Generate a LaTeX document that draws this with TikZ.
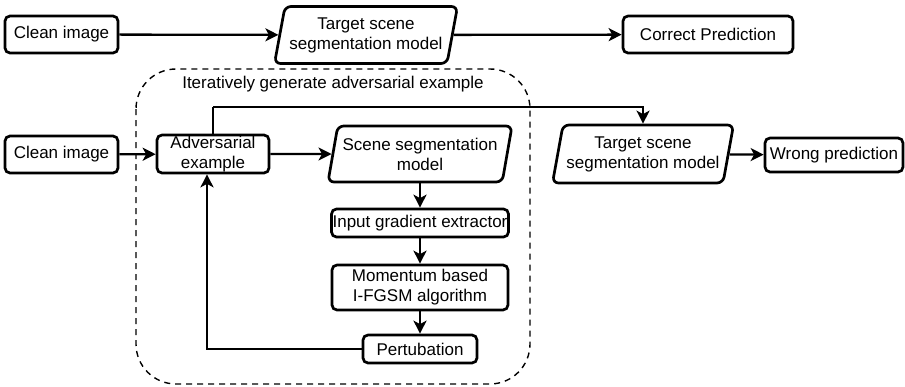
\documentclass[tikz,border=0pt]{standalone}
\usepackage{fontspec}
\setmainfont{Liberation Sans}
\usetikzlibrary{shapes.geometric,arrows.meta}

\begin{document}
\begin{tikzpicture}[x=1pt,y=-1pt,
  every node/.style={font=\fontsize{17}{20}\selectfont, align=center, inner sep=2pt},
  box/.style={rectangle, draw, line width=2.7pt, rounded corners=5pt, minimum height=37pt},
  para/.style={trapezium, trapezium left angle=75, trapezium right angle=105,
    trapezium stretches body, draw, line width=2.7pt, rounded corners=6pt,
    minimum width=183pt, minimum height=57pt},
  into/.style={{Stealth[length=13pt,width=13pt,inset=3.5pt]}-, line width=2.3pt},
  arr/.style={-{Stealth[length=13pt,width=13pt,inset=3.5pt]}, line width=2.3pt}]
\useasboundingbox (0,0) rectangle (905,386);

% the iteration loop
\draw[line width=1.4pt, dash pattern=on 6pt off 5pt, rounded corners=40pt] (136,69) rectangle (530,384);
\node (iter) at (333,84) {Iteratively generate adversarial example};

% clean run
\node (clean1) at (61.5,34.5) [box, minimum width=113pt] {Clean image};
\node (target1) at (366,35) [para] {Target scene\\segmentation model} edge[into] (clean1);
\node (correct) at (708,34.5) [box, minimum width=170pt] {Correct Prediction} edge[into] (target1);

% attack run
\node (clean2) at (61.5,154.5) [box, minimum width=113pt] {Clean image};
\node (adv) at (213,154) [box, minimum width=112pt, minimum height=38pt, inner ysep=0pt] {Adversarial\\example} edge[into] (clean2);
\node (scene) at (420,154) [para, minimum width=184pt, minimum height=56pt] {Scene segmentation\\model} edge[into] (adv);
\node (grad) at (420,223) [box, minimum width=177pt, minimum height=28pt, inner xsep=1pt] {Input gradient extractor} edge[into] (scene);
\node (momentum) at (420,287.5) [box, minimum width=176pt, minimum height=45pt] {Momentum based\\I-FGSM algorithm} edge[into] (grad);
\node (pert) at (420,349) [box, minimum width=114pt, minimum height=28pt] {Pertubation} edge[into] (momentum);

\node (target2) at (643,154) [para, minimum width=181pt, minimum height=58pt] {Target scene\\segmentation model};
\node (wrong) at (834,155) [box, minimum width=138pt, minimum height=34pt, inner xsep=1pt] {Wrong prediction} edge[into] (target2);

\coordinate (up) at (213,107);
\draw[line width=2.3pt] (adv.north) -- (up);
\draw[arr] (up) -| (target2.north);
\draw[arr] (pert.west) -| ([xshift=-6pt]adv.south);
\end{tikzpicture}
\end{document}
